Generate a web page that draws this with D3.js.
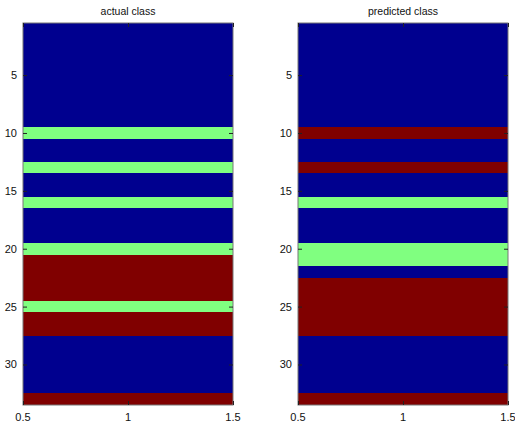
<!doctype html>
<html lang='en'>
<head>
  <meta charset='utf-8'>
  <title>actual vs predicted class</title>
  <style>
    html, body { margin: 0; padding: 0; background: #fff; }
    svg { display: block; }
    text { font-family: 'Liberation Sans', Arial, sans-serif; fill: #111; }
  </style>
</head>
<body>
  <script src='https://d3js.org/d3.v7.min.js'></script>
  <script>
    // class per row (1 = blue, 2 = green, 3 = red), rows 1..33
    const actualClass = [1, 1, 1, 1, 1, 1, 1, 1, 1, 2, 1, 1, 2, 1, 1, 2, 1, 1, 1, 2, 3, 3, 3, 3, 2, 3, 3, 1, 1, 1, 1, 1, 3]
    const predictedClass = [1, 1, 1, 1, 1, 1, 1, 1, 1, 3, 1, 1, 3, 1, 1, 2, 1, 1, 1, 2, 2, 1, 3, 3, 3, 3, 3, 1, 1, 1, 1, 1, 3]
    const titles = ['actual class', 'predicted class']
    const yTicks = [5, 10, 15, 20, 25, 30]
    const xTicks = [0.5, 1, 1.5]

    const width = 515
    const height = 430

    const color = d3.scaleOrdinal().domain([1, 2, 3]).range(['#00008f', '#80ff80', '#800000'])

    const svg = d3.select('body').append('svg')
      .attr('width', width)
      .attr('height', height)

    const panels = [
      { title: titles[0], data: actualClass, left: 23, right: 233 },
      { title: titles[1], data: predictedClass, left: 298, right: 508 }
    ]

    const plotTop = 23
    const plotBottom = 405

    panels.forEach(p => {
      const x = d3.scaleLinear().domain([0.5, 1.5]).range([p.left, p.right])
      const y = d3.scaleLinear().domain([0.5, p.data.length + 0.5]).range([plotTop, plotBottom])

      const g = svg.append('g')

      g.selectAll('rect.cell')
        .data(p.data)
        .join('rect')
        .attr('class', 'cell')
        .attr('shape-rendering', 'crispEdges')
        .attr('x', x(0.5))
        .attr('width', x(1.5) - x(0.5))
        .attr('y', (d, i) => Math.round(y(i + 0.5)))
        .attr('height', (d, i) => Math.round(y(i + 1.5)) - Math.round(y(i + 0.5)))
        .attr('fill', d => color(d))

      // axes box
      g.append('rect')
        .attr('x', x(0.5))
        .attr('y', plotTop)
        .attr('width', x(1.5) - x(0.5))
        .attr('height', plotBottom - plotTop)
        .attr('fill', 'none')
        .attr('stroke', '#777')
        .attr('stroke-width', 1)

      const tickLen = 4
      const yAxisL = d3.axisRight(y).tickValues(yTicks).tickSize(tickLen).tickFormat('')
      const yAxisR = d3.axisLeft(y).tickValues(yTicks).tickSize(tickLen).tickFormat('')
      const xAxisB = d3.axisTop(x).tickValues(xTicks).tickSize(tickLen).tickFormat('')
      const xAxisT = d3.axisBottom(x).tickValues(xTicks).tickSize(tickLen).tickFormat('')

      g.append('g').attr('transform', `translate(${x(0.5)},0)`).call(yAxisL)
      g.append('g').attr('transform', `translate(${x(1.5)},0)`).call(yAxisR)
      g.append('g').attr('transform', `translate(0,${plotBottom})`).call(xAxisB)
      g.append('g').attr('transform', `translate(0,${plotTop})`).call(xAxisT)
      g.selectAll('.domain').remove()
      g.selectAll('.tick line').attr('stroke', '#222')

      g.selectAll('text.ylab')
        .data(yTicks)
        .join('text')
        .attr('class', 'ylab')
        .attr('x', x(0.5) - 6)
        .attr('y', d => y(d) + 4)
        .attr('text-anchor', 'end')
        .style('font-size', '11px')
        .text(d => d)

      g.selectAll('text.xlab')
        .data(xTicks)
        .join('text')
        .attr('class', 'xlab')
        .attr('x', d => x(d))
        .attr('y', plotBottom + 16)
        .attr('text-anchor', 'middle')
        .style('font-size', '11px')
        .text(d => d)

      g.append('text')
        .attr('x', (x(0.5) + x(1.5)) / 2)
        .attr('y', 15)
        .attr('text-anchor', 'middle')
        .style('font-size', '10.5px')
        .text(p.title)
    })
  </script>
</body>
</html>
